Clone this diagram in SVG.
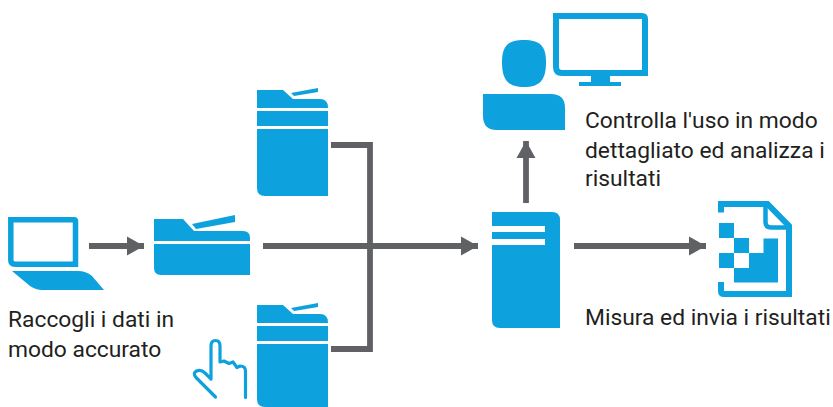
<svg xmlns="http://www.w3.org/2000/svg" width="833" height="407" viewBox="0 0 833 407">
<style>
.b{fill:#0da2dd}
.o{fill:none;stroke:#0da2dd}
.c{fill:none;stroke:#5f6165;stroke-width:5.8}
.t{font-family:Roboto,sans-serif;font-size:22.8px;fill:#231f20}
</style>
<defs>
<marker id="a" markerUnits="userSpaceOnUse" markerWidth="18" markerHeight="20" refX="17" refY="10" orient="auto"><path d="M0 .5L17 10L0 19.500Z" fill="#5f6165"/></marker>
<g id="copier">
<path class="b" d="M257 90H283L293 99H320Q328 99 328 107.500V108H257Z"/>
<path class="b" d="M291 93L318 88V92L294 96Z"/>
<rect class="b" x="257" y="111" width="71" height="15"/>
<path class="b" d="M257 129H328V196H265Q257 196 257 188Z"/>
</g>
</defs>
<g id="connectors">
<path class="c" d="M89 246H144" marker-end="url(#a)"/>
<path class="c" d="M263 246H478" marker-end="url(#a)"/>
<path class="c" d="M331 145H370V349H331"/>
<path class="c" d="M526 203V141" marker-end="url(#a)"/>
<path class="c" d="M574 246H706" marker-end="url(#a)"/>
</g>
<g id="laptop">
<path class="o" stroke-width="5.500" d="M10.800 219.800H74Q75.500 219.800 75.500 221.500V264.200H15Q10.800 264.200 10.800 260Z"/>
<path class="b" d="M12 271H78Q86 271 92 276L104 290H42Q36 290 30 286Z"/>
</g>
<g id="scanner">
<path class="b" d="M154 219H183L194 231H243Q250 231 250 238V241H154Z"/>
<path class="b" d="M192 224L235 215V222L196 229Z"/>
<path class="b" d="M154 244H250V275H161Q154 275 154 268Z"/>
</g>
<g id="copier-top"><use href="#copier"/></g>
<g id="copier-bottom">
<path class="b" d="M257 305H283L293 314H320Q328 314 328 322.500V323H257Z"/>
<path class="b" d="M291 308L318 303V307L294 311Z"/>
<rect class="b" x="257" y="326" width="71" height="15"/>
<path class="b" d="M257 344H328V407H265Q257 407 257 399Z"/>
</g>
<g id="hand">
<path class="o" stroke-width="3.200" stroke-linecap="round" stroke-linejoin="round" d="M215.500 397L196 377.500Q192.500 373 196.500 371Q201 369 205 373L211 379V346Q211 340.500 215.500 340.500Q220 340.500 220 346V362L224 361L229 363.500L233 362L237 367.500L240 366Q245.500 366 245.500 371V397.500"/>
</g>
<g id="server">
<path class="b" d="M492 212H552Q560 212 560 220V328H500Q492 328 492 320V245H545V239H492V232H545V226H492Z"/>
</g>
<g id="user">
<path class="b" d="M524 40C540 40 546 46 546 62C546 80 540 87 524 87C508 87 502 80 502 62C502 46 508 40 524 40Z"/>
<path class="b" d="M483 94H551Q565 94 565 108V130H497Q483 130 483 116Z"/>
</g>
<g id="monitor">
<path class="o" stroke-width="6" d="M556 16H642Q645 16 645 19V73H562Q556 73 556 67Z"/>
<path class="b" d="M591 76H610V82H621V86H579V82H591Z"/>
</g>
<g id="document">
<path class="o" stroke-width="6" d="M721 212.500V204H767.500L789 226V294H724Q721 294 721 291V282"/>
<path class="o" stroke-width="4.500" d="M765.500 206V222Q765.500 227.500 771 227.500H789"/>
<rect class="b" x="719" y="223" width="15" height="15"/>
<rect class="b" x="734" y="238" width="15" height="15"/>
<rect class="b" x="719" y="253" width="15" height="15"/>
<path class="b" d="M749 253H763.500V238.500H778V282.500H734V268H749Z"/>
</g>
<g id="labels">
<text class="t" x="8" y="327">Raccogli i dati in</text>
<text class="t" x="8" y="357">modo accurato</text>
<text class="t" x="585" y="128">Controlla l'uso in modo</text>
<text class="t" x="585" y="158">dettagliato ed analizza i</text>
<text class="t" x="585" y="186">risultati</text>
<text class="t" x="585" y="325">Misura ed invia i risultati</text>
</g>
</svg>
